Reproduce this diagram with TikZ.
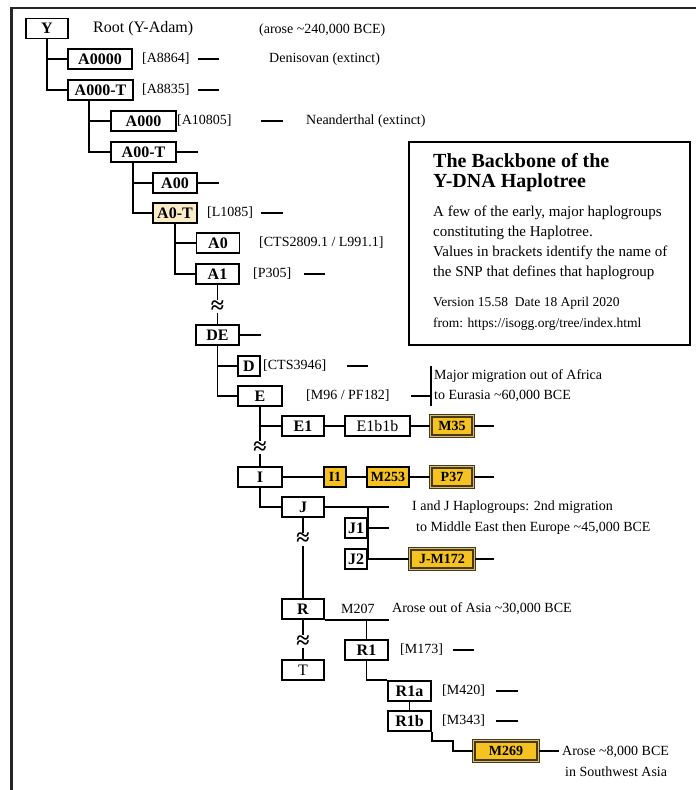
\documentclass[tikz,border=0pt]{standalone}
\usepackage{fontspec}
\setmainfont{Liberation Serif}
\definecolor{gold}{RGB}{246,194,33}
\definecolor{rim}{RGB}{72,58,22}
\definecolor{rimgap}{RGB}{214,190,122}
\definecolor{pale}{RGB}{251,236,200}

\begin{document}
\begin{tikzpicture}[x=1pt, y=-1pt,
    hg/.style={draw, line width=1.6pt, minimum height=20pt, inner sep=0pt,
               font=\fontsize{16}{19}\selectfont\bfseries},
    hgthin/.style={hg, font=\fontsize{16}{19}\selectfont},
    gold/.style={hg, fill=gold, minimum height=20pt,
                 font=\fontsize{14}{16}\selectfont\bfseries},
    goldx/.style={gold, draw=rim, double=rimgap, double distance=1.4pt,
                  line width=1.1pt, minimum height=20.5pt},
    rel/.style={line width=1.6pt},
    lbl/.style={anchor=west, inner sep=0pt, font=\fontsize{14}{17}\selectfont},
    approx/.style={fill=white, inner sep=0pt, font=\fontsize{24}{24}\selectfont\bfseries}
]
\useasboundingbox (0,0) rectangle (696,790);

% Frame
\draw[line width=2.2pt, black!85] (696,8) -- (11.5,8) -- (11.5,790);

% Haplogroups (boxes)
\node[hg, minimum width=42] (root)   at (47,28.5)   {Y};
\node[hg, minimum width=64] (a0000)  at (100,59)    {A0000};
\node[hg, minimum width=65] (a000t)  at (100.5,90)  {A000-T};
\node[hg, minimum width=65] (a000)   at (143.5,121) {A000};
\node[hg, minimum width=65] (a00t)   at (143.5,152) {A00-T};
\node[hg, minimum width=44] (a00)    at (175,183)   {A00};
\node[hg, minimum width=44, fill=pale] (a0t) at (175,213) {A0-T};
\node[hg, minimum width=43] (a0)     at (218,243)   {A0};
\node[hg, minimum width=43] (a1)     at (217.5,274) {A1};
\node[hg, minimum width=43] (de)     at (217.5,335) {DE};
\node[hg, minimum width=22] (d)      at (249,366)   {D};
\node[hg, minimum width=44] (e)      at (260,396)   {E};
\node[hg, minimum width=42] (e1)     at (303,426)   {E1};
\node[hgthin, minimum width=65] (e1b1b) at (377.5,426) {E1b1b};
\node[goldx, minimum width=42.5] (m35) at (452,426) {M35};
\node[hg, minimum width=44] (i)      at (260,477)   {I};
\node[gold, minimum width=22] (i1)   at (335,477)   {I1};
\node[gold, minimum width=42] (m253) at (388,477)   {M253};
\node[goldx, minimum width=42.5] (p37) at (452,477) {P37};
\node[hg, minimum width=42] (j)      at (303,507)   {J};
\node[hg, minimum width=22] (j1)     at (356,528)   {J1};
\node[hg, minimum width=22] (j2)     at (356,559)   {J2};
\node[goldx, minimum width=64.5] (jm172) at (442,559) {J-M172};
\node[hg, minimum width=42] (r)      at (303,609)   {R};
\node[hgthin, minimum width=42] (t)  at (303,670)   {T};
\node[hg, minimum width=43] (r1)     at (366.5,650) {R1};
\node[hg, minimum width=43] (r1a)    at (409.5,691) {R1a};
\node[hg, minimum width=43] (r1b)    at (409.5,721) {R1b};
\node[goldx, minimum width=64.5] (m269) at (506,751) {M269};

% SNP names and notes
\node[lbl, font=\fontsize{16}{19}\selectfont] (rootnote) at (93,29) {Root (Y-Adam)};
\node[lbl] (arose)       at (259,30)  {(arose \textasciitilde240,000 BCE)};
\node[lbl] (snpa0000)    at (142,59)  {[A8864]};
\node[lbl] (denisovan)   at (269,59)  {Denisovan (extinct)};
\node[lbl] (snpa000t)    at (142,90)  {[A8835]};
\node[lbl] (snpa000)     at (177,121) {[A10805]};
\node[lbl] (neanderthal) at (306,121) {Neanderthal (extinct)};
\node[lbl] (snpa0t)      at (207,213) {[L1085]};
\node[lbl] (snpa0)       at (259,243) {[CTS2809.1 / L991.1]};
\node[lbl] (snpa1)       at (253,274) {[P305]};
\node[lbl] (snpd)        at (263,366) {[CTS3946]};
\node[lbl] (snpe)        at (306,396) {[M96 / PF182]};
\node[lbl, align=left, font=\fontsize{14}{20}\selectfont] (outafrica) at (434,386)
    {Major migration out of Africa\\to Eurasia \textasciitilde60,000 BCE};
\node[lbl] (ijnote)      at (412,507) {I and J Haplogroups: 2nd migration};
\node[lbl] (ijnote2)     at (416,528) {to Middle East then Europe \textasciitilde45,000 BCE};
\node[lbl] (snpr)        at (341,609) {M207};
\node[lbl] (outasia)     at (392,609) {Arose out of Asia \textasciitilde30,000 BCE};
\node[lbl] (snpr1)       at (400,650) {[M173]};
\node[lbl] (snpr1a)      at (442,691) {[M420]};
\node[lbl] (snpr1b)      at (442,721) {[M343]};
\node[lbl] (swasia)      at (562,752) {Arose \textasciitilde8,000 BCE};
\node[lbl] (swasia2)     at (565,772) {in Southwest Asia};

% Info box
\node[draw, line width=1.6pt, minimum width=281, minimum height=203, inner sep=0pt] (info) at (549.5,243.5) {};
\node[anchor=west, inner sep=0pt, align=left, font=\fontsize{20}{19.5}\selectfont\bfseries] (title) at (433,172.5)
    {The Backbone of the\\Y-DNA Haplotree};
\node[anchor=west, inner sep=0pt, align=left, font=\fontsize{15}{20}\selectfont] (blurb) at (433,243)
    {A few of the early, major haplogroups\\constituting the Haplotree.\\Values in brackets identify the name of\\the SNP that defines that haplogroup};
\node[anchor=west, inner sep=0pt, align=left, font=\fontsize{13.5}{21}\selectfont] (version) at (433,313.5)
    {Version 15.58\ \ Date 18 April 2020\\from: https://isogg.org/tree/index.html};

% Y -> A0000, A000-T
\draw[rel] (root.south) |- (a0000.west);
\draw[rel] (root.south) |- (a000t.west);

% A000-T -> A000, A00-T
\draw[rel] ([xshift=-11.5]a000t.south) |- (a000.west);
\draw[rel] ([xshift=-11.5]a000t.south) |- (a00t.west);

% A00-T -> A00, A0-T
\draw[rel] ([xshift=-10.5]a00t.south) |- (a00.west);
\draw[rel] ([xshift=-10.5]a00t.south) |- (a0t.west);

% A0-T -> A0, A1
\draw[rel] (a0t.south) |- (a0.west);
\draw[rel] (a0t.south) |- (a1.west);

% A1 ~ DE
\draw[rel] (a1) -- node[approx, pos=0.56]{≈} (de);

% DE -> D, E
\draw[rel] (de.south) |- (d.west);
\draw[rel] (de.south) |- (e.west);

% E -> E1 -> E1b1b -> M35
\draw[rel] (e.south) |- (e1.west);
\draw[rel] (e1) -- (e1b1b);
\draw[rel] (e1b1b) -- (m35);

% E ~ I, I -> I1 -> M253 -> P37
\draw[rel] (e) -- node[approx, pos=0.69]{≈} (i);
\draw[rel] (i) -- (i1);
\draw[rel] (i1) -- (m253);
\draw[rel] (m253) -- (p37);

% I -> J -> J1, J2 -> J-M172
\draw[rel] (i.south) |- (j.west);
\draw[rel] (j.east) -- ++(64,0);
\draw[rel] (j.east -| j1.east) -- (j2.east);
\draw[rel] (j2) -- (jm172);

% J ~ R, R ~ T
\draw[rel] (j) -- node[approx, pos=0.27]{≈} (r);
\draw[rel] (r) -- node[approx, pos=0.56]{≈} (t);

% R -> R1 -> R1a, R1b -> M269
\draw[rel] (r.south east) -- ++(64,0);
\draw[rel] (r.south east -| r1.north) -- (r1.north);
\draw[rel] (r1.south) |- (r1a.north west);
\draw[rel] (r1a) -- (r1b);
\draw[rel] (r1b.south east) -- ++(0,9) -| ([xshift=-20]m269.west) -- (m269.west);

% Migration bracket
\coordinate (bartop) at (431,366);
\coordinate (barbot) at (431,406);
\draw[rel] (bartop) -- (barbot);
\draw[rel] ([xshift=128]e.east) -- (bartop |- e.east);

% Stubs
\draw[rel] (a0000.east) ++(65,0) -- ++(21,0);
\draw[rel] (a000t.east) ++(64,0) -- ++(21,0);
\draw[rel] (a000.east)  ++(84,0) -- ++(22,0);
\draw[rel] (a00t.east) -- ++(21,0);
\draw[rel] (a00.east)  -- ++(21,0);
\draw[rel] (a0t.east)  ++(63,0) -- ++(22,0);
\draw[rel] (a1.east)   ++(64,0) -- ++(21,0);
\draw[rel] (de.east)   -- ++(21,0);
\draw[rel] (d.east)    ++(86,0) -- ++(21,0);
\draw[rel] (m35.east)  -- ++(20,0);
\draw[rel] (p37.east)  -- ++(20,0);
\draw[rel] (j1.east)   -- ++(21,0);
\draw[rel] (jm172.east) -- ++(19,0);
\draw[rel] (r1.east)   ++(64,0) -- ++(21,0);
\draw[rel] (r1a.east)  ++(64,0) -- ++(22,0);
\draw[rel] (r1b.east)  ++(64,0) -- ++(22,0);
\draw[rel] (m269.east) -- ++(20,0);

\end{tikzpicture}
\end{document}
